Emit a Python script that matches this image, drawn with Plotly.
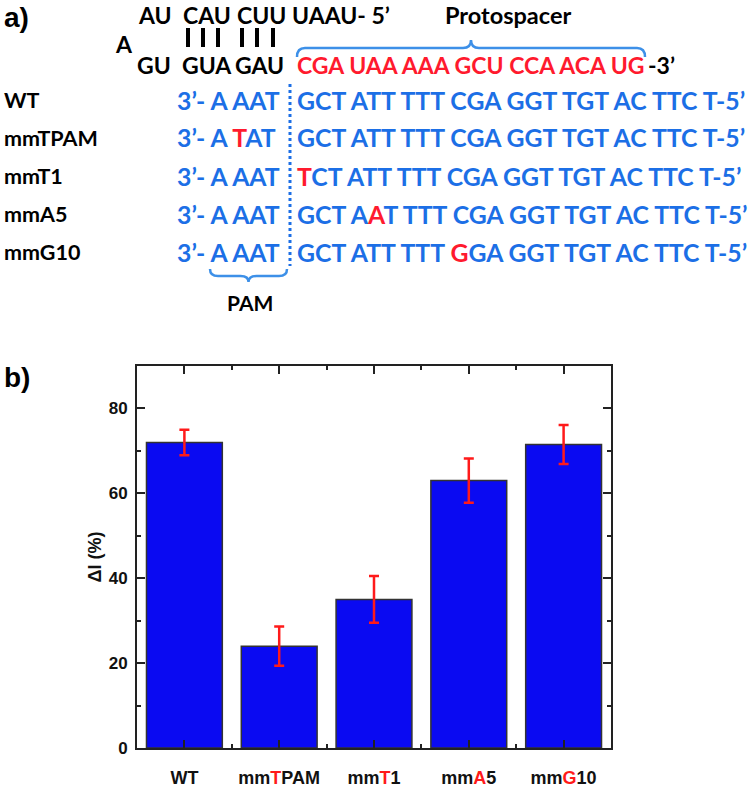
import plotly.graph_objects as go

# ---------------- data ----------------
categories = ["WT", "mmTPAM", "mmT1", "mmA5", "mmG10"]
tick_labels = [
    "WT",
    "mm<span style='color:#ff1a1a'>T</span>PAM",
    "mm<span style='color:#ff1a1a'>T</span>1",
    "mm<span style='color:#ff1a1a'>A</span>5",
    "mm<span style='color:#ff1a1a'>G</span>10",
]
delta_i = [72.0, 24.0, 35.0, 63.0, 71.5]
delta_err = [3.0, 4.6, 5.5, 5.2, 4.6]

row_labels = ["WT", "mmTPAM", "mmT1", "mmA5", "mmG10"]
pam_seqs = ["3’- A AAT", "3’- A [T]AT", "3’- A AAT", "3’- A AAT", "3’- A AAT"]
proto_seqs = [
    "GCT ATT TTT CGA GGT TGT AC TTC T-5’",
    "GCT ATT TTT CGA GGT TGT AC TTC T-5’",
    "[T]CT ATT TTT CGA GGT TGT AC TTC T-5’",
    "GCT A[A]T TTT CGA GGT TGT AC TTC T-5’",
    "GCT ATT TTT [G]GA GGT TGT AC TTC T-5’",
]
rna_top = ["AU", "CAU", "CUU", "UAAU- 5’"]
rna_bottom = ["GU", "GUA", "GAU"]
rna_loop = "A"
spacer_rna = "CGA UAA AAA GCU CCA ACA UG"

# ---------------- layout helpers ----------------
W, H = 750, 792
L, R, T, B = 137, 611, 366, 748   # plot frame in page pixels
BLUE_TXT = "#1c6fe6"
RED = "#ff1a2e"
BRACE = "#3d90e8"
SEQ_FONT = "Lato"


def px(x):
    return (x - L) / (R - L)


def py(y):
    return (B - y) / (B - T)


def colorize(s):
    return s.replace("[", f"<span style='color:{RED}'>").replace("]", "</span>")


fig = go.Figure()
positions = list(range(len(categories)))
fig.add_trace(go.Bar(
    x=positions, y=delta_i, width=0.8,
    marker=dict(color="#0a0af2", line=dict(color="#333333", width=1.5)),
    error_y=dict(type="data", array=delta_err, visible=True,
                 color="#ff1a1a", thickness=2.5, width=5),
))

annotations = []


def txt(x, y, s, size, color="black", anchor="left", font=SEQ_FONT):
    annotations.append(dict(
        x=px(x), y=py(y), xref="paper", yref="paper", text=f"<b>{s}</b>",
        showarrow=False, xanchor=anchor, yanchor="middle", borderpad=0,
        font=dict(family=font, size=size, color=color)))


txt(3, 17, "a)", 28, font="Liberation Sans")
txt(3, 377, "b)", 28, font="Liberation Sans")

# RNA hairpin
top_x = [137, 182, 236, 291]
for s, x in zip(rna_top, top_x):
    txt(x, 15, s, 23)
bot_x = [136, 181, 234]
for s, x in zip(rna_bottom, bot_x):
    txt(x, 65, s, 23)
txt(114, 44, rna_loop, 23)
txt(296, 65, spacer_rna, 23, color=RED)
txt(647, 65, "-3’", 23)
txt(508, 15, "Protospacer", 23.5, anchor="center")

row_y = [100, 138, 176, 214, 252]
for lab, pam, seq, y in zip(row_labels, pam_seqs, proto_seqs, row_y):
    txt(3, y, lab, 21.5)
    txt(176, y, colorize(pam), 24.8, color=BLUE_TXT)
    txt(296, y, colorize(seq), 24.8, color=BLUE_TXT)
txt(250, 302, "PAM", 21, anchor="center")

shapes = []
for x in [188, 203, 218, 242, 257, 273]:
    shapes.append(dict(type="line", xref="paper", yref="paper",
                       x0=px(x), x1=px(x), y0=py(28), y1=py(47),
                       line=dict(color="black", width=4)))
shapes.append(dict(type="line", xref="paper", yref="paper",
                   x0=px(290), x1=px(290), y0=py(84), y1=py(266),
                   line=dict(color=BLUE_TXT, width=3, dash="dot")))


def brace(x0, x1, ybar, yend, ytip):
    xm = (x0 + x1) / 2
    r = 8
    pts = [
        f"M {px(x0)},{py(yend)}",
        f"Q {px(x0)},{py(ybar)} {px(x0 + r)},{py(ybar)}",
        f"L {px(xm - r)},{py(ybar)}",
        f"Q {px(xm)},{py(ybar)} {px(xm)},{py(ytip)}",
        f"Q {px(xm)},{py(ybar)} {px(xm + r)},{py(ybar)}",
        f"L {px(x1 - r)},{py(ybar)}",
        f"Q {px(x1)},{py(ybar)} {px(x1)},{py(yend)}",
    ]
    return dict(type="path", xref="paper", yref="paper", path=" ".join(pts),
                line=dict(color=BRACE, width=2.5))


shapes.append(brace(297, 645, 48, 57, 40))
shapes.append(brace(210, 287, 276, 269, 282))

axis_common = dict(showline=True, linecolor="#222222", linewidth=2, mirror="ticks",
                   ticks="inside", tickcolor="#222222", tickwidth=2, ticklen=8,
                   showgrid=False, zeroline=False, automargin=False)

fig.update_layout(
    width=W, height=H,
    margin=dict(l=L, r=W - R, t=T, b=H - B, autoexpand=False),
    paper_bgcolor="white", plot_bgcolor="white",
    showlegend=False,
    annotations=annotations,
    shapes=shapes,
    xaxis=dict(range=[-0.5, 4.5], tickvals=positions, ticktext=[f"<b>{t}</b>" for t in tick_labels],
               tickfont=dict(family="Liberation Sans", size=18, color="#111111"),
               ticklabelstandoff=12,
               minor=dict(tickvals=[p + 0.5 for p in positions[:-1]], ticks="inside",
                          ticklen=4, tickwidth=2, tickcolor="#222222"),
               **axis_common),
    yaxis=dict(range=[0, 90], tickvals=[0, 20, 40, 60, 80],
               ticktext=["<b>0</b>", "<b>20</b>", "<b>40</b>", "<b>60</b>", "<b>80</b>"],
               tickfont=dict(family="Liberation Sans", size=17, color="#111111"),
               ticklabelstandoff=4,
               minor=dict(tickvals=[10, 30, 50, 70], ticks="inside",
                          ticklen=4, tickwidth=2, tickcolor="#222222"),
               title=dict(text="<b>ΔI (%)</b>", font=dict(family="Liberation Sans", size=18, color="#111111"),
                          standoff=2),
               **axis_common),
)

# remove the default 8px page margin so the figure fills the window exactly
fig.write_html("out.html", config={"displayModeBar": False},
               post_script="document.body.style.margin='0px';")
